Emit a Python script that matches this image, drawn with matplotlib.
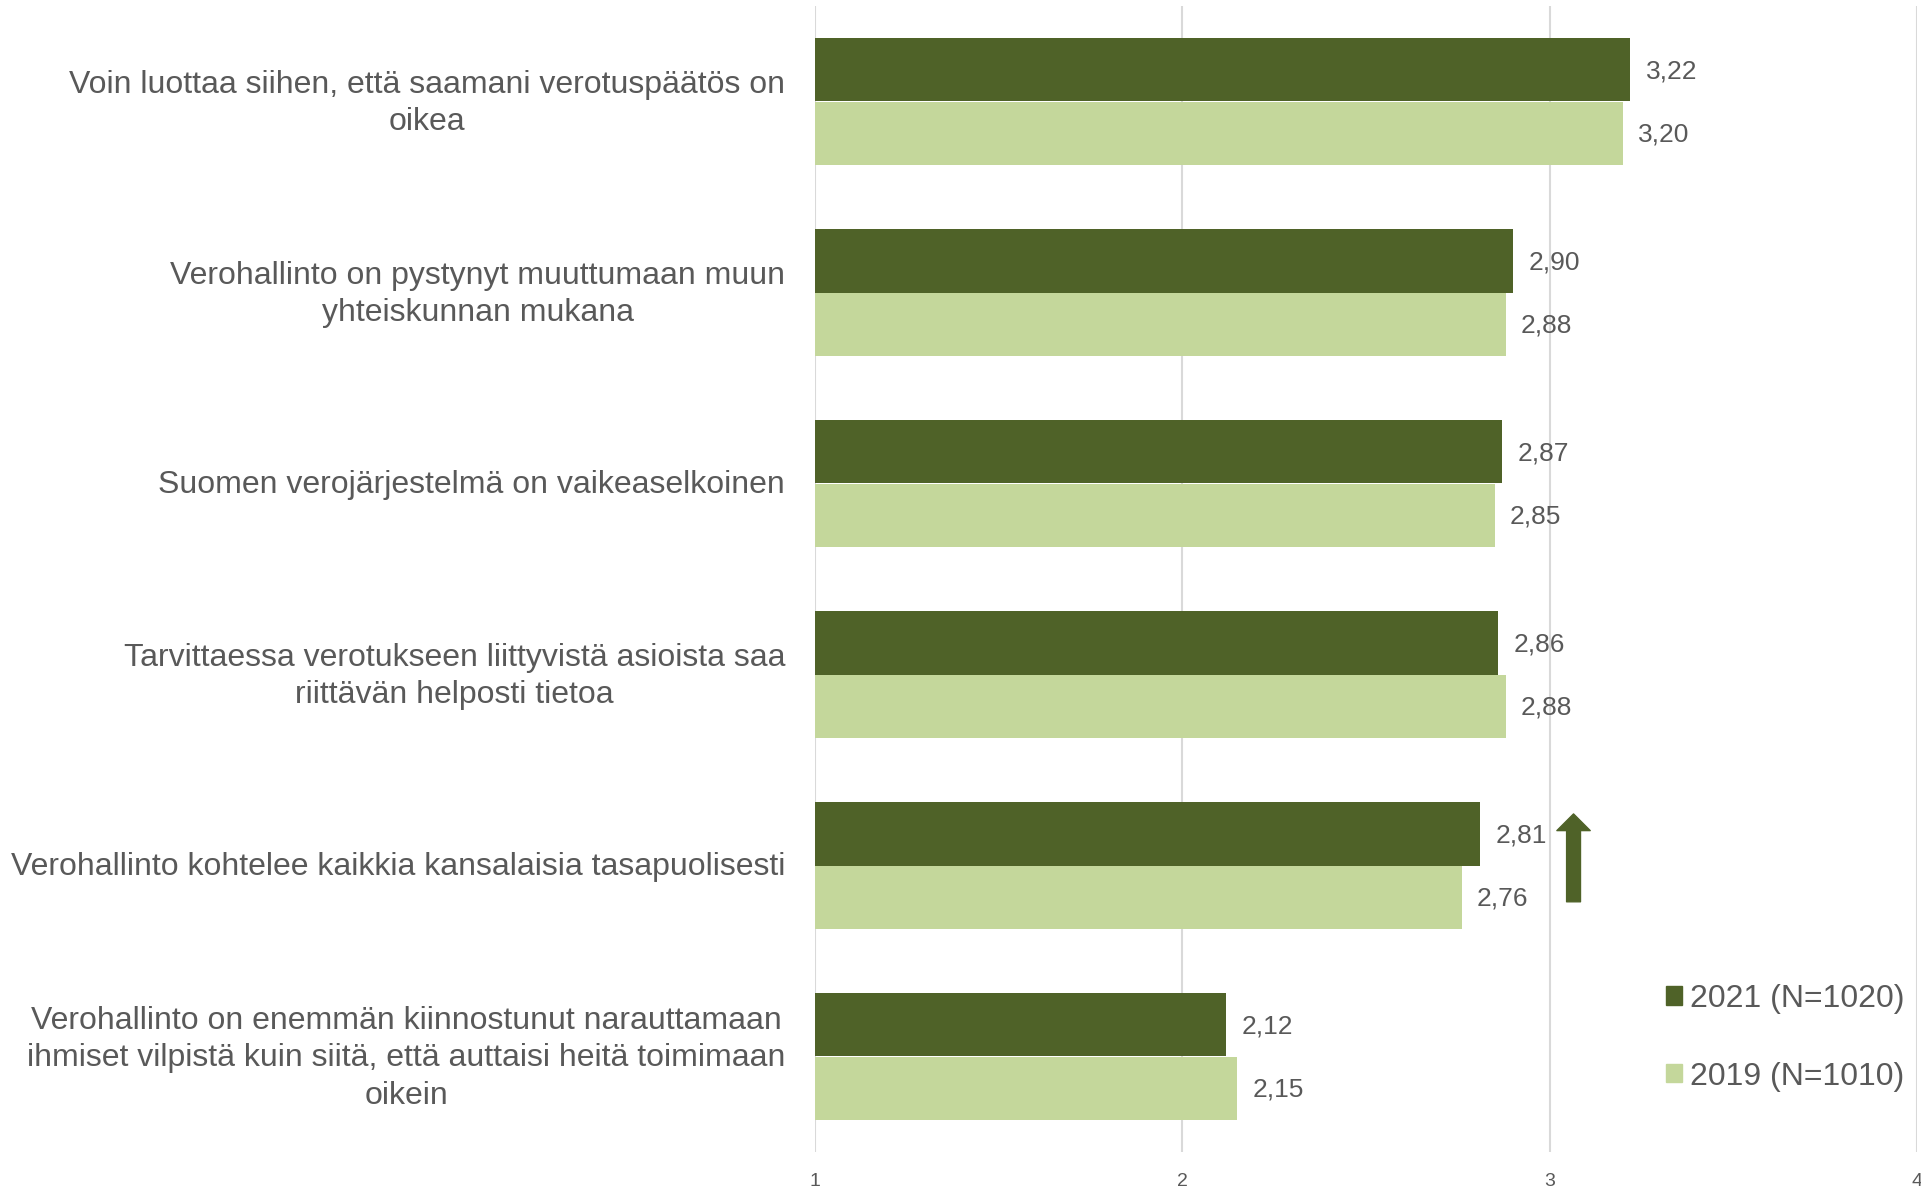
import matplotlib
matplotlib.use("Agg")
import matplotlib.pyplot as plt
import numpy as np
from matplotlib.patches import Patch

categories = [
    "Voin luottaa siihen, että saamani verotuspäätös on\noikea",
    "Verohallinto on pystynyt muuttumaan muun\nyhteiskunnan mukana",
    "Suomen verojärjestelmä on vaikeaselkoinen",
    "Tarvittaessa verotukseen liittyvistä asioista saa\nriittävän helposti tietoa",
    "Verohallinto kohtelee kaikkia kansalaisia tasapuolisesti",
    "Verohallinto on enemmän kiinnostunut narauttamaan\nihmiset vilpistä kuin siitä, että auttaisi heitä toimimaan\noikein",
]
values_2021 = [3.22, 2.90, 2.87, 2.86, 2.81, 2.12]
values_2019 = [3.20, 2.88, 2.85, 2.88, 2.76, 2.15]
series_labels = ["2021 (N=1020)", "2019 (N=1010)"]
xticks = [1, 2, 3, 4]

DARK = "#4F6228"
LIGHT = "#C4D79B"
GRID = "#D9D9D9"
TEXT = "#595959"

plt.rcParams['font.family'] = ['Liberation Sans', 'DejaVu Sans']

fig = plt.figure(figsize=(19.21, 11.89), dpi=100)
ax = fig.add_axes([815/1921, 1 - 1152/1189, (1917-815)/1921, (1152-6)/1189])

y = np.arange(len(categories))
h = 1/3
ax.barh(y - h/2, np.array(values_2021) - 1, left=1, height=h, color=DARK, zorder=3)
ax.barh(y + h/2, np.array(values_2019) - 1, left=1, height=h, color=LIGHT, zorder=3)

for yi, v in zip(y - h/2, values_2021):
    ax.annotate(f"{v:.2f}".replace(".", ","), (v, yi), xytext=(11, -1), textcoords="offset points",
                ha="left", va="center", fontsize=19, color=TEXT)
for yi, v in zip(y + h/2, values_2019):
    ax.annotate(f"{v:.2f}".replace(".", ","), (v, yi), xytext=(11, -1), textcoords="offset points",
                ha="left", va="center", fontsize=19, color=TEXT)

ax.set_xlim(1, 4)
ax.set_ylim(len(categories) - 0.5, -0.5)
ax.set_xticks(xticks)
ax.set_xticklabels([str(t) for t in xticks], fontsize=14, color=TEXT)
ax.tick_params(axis="x", length=0, pad=15)
ax.set_yticks([])
for s in ax.spines.values():
    s.set_visible(False)
ax.grid(axis="x", color=GRID, linewidth=1.5, zorder=0)
ax.set_axisbelow(True)

for yi, lab in zip(y, categories):
    ax.text(-0.027, yi + 0.01, lab, transform=ax.get_yaxis_transform(), ha="right", va="center",
            multialignment="center", fontsize=23, color=TEXT, linespacing=1.33)

# arrow
ax.annotate("", xy=(3.065, 3.73), xytext=(3.065, 4.19),
            arrowprops=dict(arrowstyle="simple,head_width=24,head_length=12,tail_width=10",
                            mutation_scale=1, color=DARK, shrinkA=0, shrinkB=0))

handles = [Patch(color=DARK), Patch(color=LIGHT)]
fig.legend(handles, series_labels, loc="upper left", bbox_to_anchor=(1637/1921, 1 - 955/1189),
           frameon=False, fontsize=23, labelcolor=TEXT, handlelength=0.5, handleheight=0.5,
           handletextpad=0.25, labelspacing=1.5)

fig.savefig("out.png", dpi=100)
